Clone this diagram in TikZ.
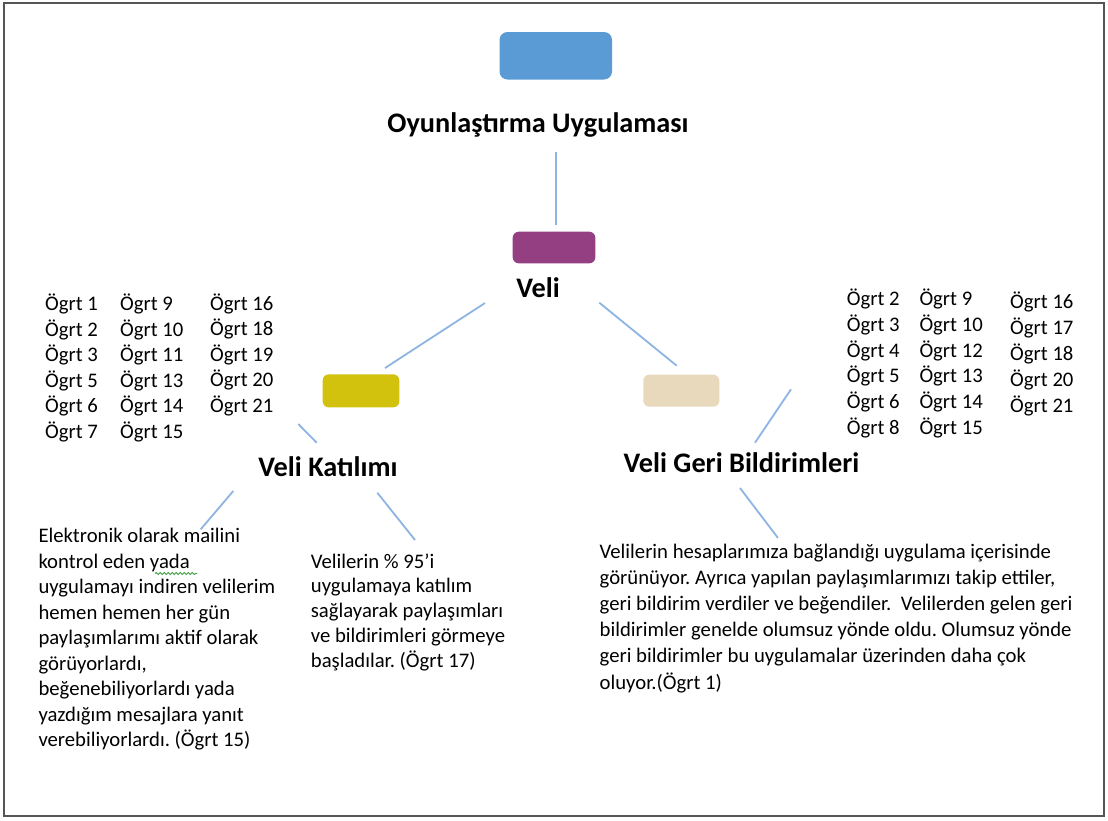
\documentclass[tikz,border=0pt]{standalone}
\usepackage{fontspec}
\setmainfont{Carlito}
\usetikzlibrary{decorations.pathmorphing}
\frenchspacing
\definecolor{linkblue}{HTML}{8DB4E2}
\definecolor{boxblue}{HTML}{5B9BD5}
\definecolor{boxpurple}{HTML}{953F83}
\definecolor{boxyellow}{HTML}{D2C20E}
\definecolor{boxbeige}{HTML}{E8D9BD}
\definecolor{framegray}{HTML}{555555}
\definecolor{spellgreen}{HTML}{3FA03F}
\newcommand{\titlefont}{\fontsize{28.3}{34}\selectfont\bfseries}
\begin{document}
\begin{tikzpicture}[x=1pt,y=-1pt,
  link/.style={draw=linkblue,line width=1.8pt},
  tagbox/.style={inner sep=0pt,rounded corners=6pt},
  title/.style={anchor=base,inner sep=0pt,font=\titlefont},
  txt/.style={anchor=base west,inner sep=0pt}]
\useasboundingbox (0,0) rectangle (1108,820);
\fill[white] (0,0) rectangle (1108,820);
\draw[framegray,line width=1.6pt] (4,3) rectangle (1104,816);

% coloured heading boxes
\fill[boxblue,rounded corners=8pt] (499.5,32) rectangle (612,79.5);
\fill[boxpurple,tagbox] (512.7,231.7) rectangle (595.3,263.3);
\fill[boxyellow,tagbox] (322.7,374.3) rectangle (399.3,407.3);
\fill[boxbeige,tagbox] (643.3,374.7) rectangle (719.3,406.7);

% headings
\node[title] (tMain) at (538,132) {Oyunlaştırma Uygulaması};
\node[title] (tVeli) at (538,297) {Veli};
\node[title] (tKat) at (328,476) {Veli Katılımı};
\node[title] (tGeri) at (741.5,472) {Veli Geri Bildirimleri};

% connector end points
\coordinate (c1a) at (555.7,152);
\coordinate (c1b) at (555.7,225);
\coordinate (c2a) at (485,303);
\coordinate (c2b) at (385,368);
\coordinate (c3a) at (599.3,302.7);
\coordinate (c3b) at (676.7,365.7);
\coordinate (c4a) at (298.3,424);
\coordinate (c4b) at (316.7,442.7);
\coordinate (c5a) at (791,389.3);
\coordinate (c5b) at (755,442.7);
\coordinate (c6a) at (233.3,491);
\coordinate (c6b) at (200.7,529.3);
\coordinate (c7a) at (377.3,492.7);
\coordinate (c7b) at (415,540);
\coordinate (c8a) at (740,488);
\coordinate (c8b) at (778,538);
\foreach \p in {1,...,8} \draw[link] (c\p a) -- (c\p b);

% teacher lists, left
\node[txt] (lA) at (45,310.5) {\parbox[t]{80pt}{\fontsize{20.7}{25.6}\selectfont
  Ögrt 1\\Ögrt 2\\Ögrt 3\\Ögrt 5\\Ögrt 6\\Ögrt 7}};
\node[txt] (lB) at (120,310.5) {\parbox[t]{80pt}{\fontsize{20.7}{25.6}\selectfont
  Ögrt 9\\Ögrt 10\\Ögrt 11\\Ögrt 13\\Ögrt 14\\Ögrt 15}};
\node[txt] (lC) at (210,310) {\parbox[t]{80pt}{\fontsize{20.7}{25.6}\selectfont
  Ögrt 16\\Ögrt 18\\Ögrt 19\\Ögrt 20\\Ögrt 21}};

% teacher lists, right
\node[txt] (rA) at (846.7,305.5) {\parbox[t]{80pt}{\fontsize{20.7}{25.8}\selectfont
  Ögrt 2\\Ögrt 3\\Ögrt 4\\Ögrt 5\\Ögrt 6\\Ögrt 8}};
\node[txt] (rB) at (919.3,305.5) {\parbox[t]{80pt}{\fontsize{20.7}{25.8}\selectfont
  Ögrt 9\\Ögrt 10\\Ögrt 12\\Ögrt 13\\Ögrt 14\\Ögrt 15}};
\node[txt] (rC) at (1010,308.5) {\parbox[t]{80pt}{\fontsize{20.7}{26}\selectfont
  Ögrt 16\\Ögrt 17\\Ögrt 18\\Ögrt 20\\Ögrt 21}};

% quotations
\node[txt] (qL) at (38.3,542.5) {\parbox[t]{270pt}{\fontsize{20.7}{25.5}\selectfont
  Elektronik olarak mailini\\
  kontrol eden yada\\
  uygulamayı indiren velilerim\\
  hemen hemen her gün\\
  paylaşımlarımı aktif olarak\\
  görüyorlardı,\\
  beğenebiliyorlardı yada\\
  yazdığım mesajlara yanıt\\
  verebiliyorlardı. (Ögrt 15)}};
\draw[spellgreen,line width=0.9pt,decorate,
  decoration={snake,amplitude=1pt,segment length=4pt}]
  (155,573.5) -- (197,573.5);

\node[txt] (qM) at (310.7,568) {\parbox[t]{230pt}{\fontsize{20.7}{24.8}\selectfont
  Velilerin \% 95’i\\
  uygulamaya katılım\\
  sağlayarak paylaşımları\\
  ve bildirimleri görmeye\\
  başladılar. (Ögrt 17)}};

\node[txt] (qR) at (599.5,558.5) {\parbox[t]{500pt}{\fontsize{20.7}{26.1}\selectfont
  Velilerin hesaplarımıza bağlandığı uygulama içerisinde\\
  görünüyor. Ayrıca yapılan paylaşımlarımızı takip ettiler,\\
  geri bildirim verdiler ve beğendiler.\ \ Velilerden gelen geri\\
  bildirimler genelde olumsuz yönde oldu. Olumsuz yönde\\
  geri bildirimler bu uygulamalar üzerinden daha çok\\
  oluyor.(Ögrt 1)}};
\end{tikzpicture}
\end{document}
